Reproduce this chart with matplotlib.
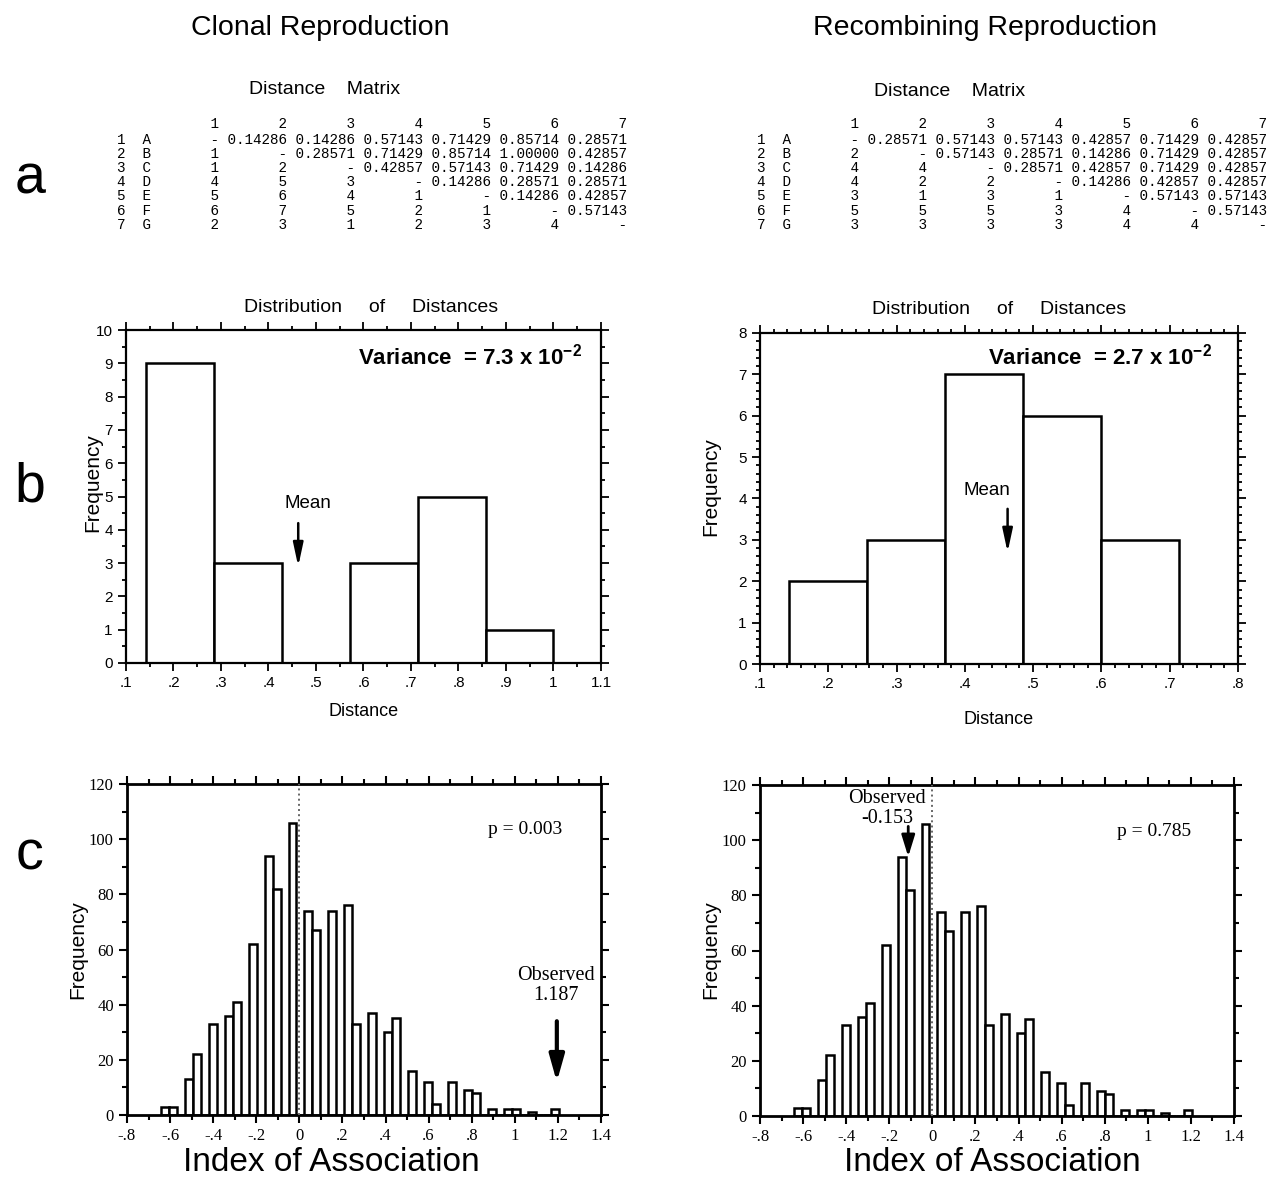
import numpy as np
import matplotlib.pyplot as plt

plt.rcParams['font.family'] = ['Liberation Sans', 'DejaVu Sans']
plt.rcParams['mathtext.fontset'] = 'custom'
plt.rcParams['mathtext.rm'] = 'Liberation Sans'
plt.rcParams['mathtext.bf'] = 'Liberation Sans:bold'

W, H = 1269, 1177

# ===============================
# Data
# ===============================

n_loci = 7
isolates = ["A", "B", "C", "D", "E", "F", "G"]

# number of loci that differ (lower triangle of the matrices)
clonal_diff = [[], [1], [1, 2], [4, 5, 3], [5, 6, 4, 1], [6, 7, 5, 2, 1], [2, 3, 1, 2, 3, 4]]
recomb_diff = [[], [2], [4, 4], [4, 2, 2], [3, 1, 3, 1], [5, 5, 5, 3, 4], [3, 3, 3, 3, 4, 4]]

# distribution of distances
clonal_edges = [0.14286, 0.28571, 0.42857, 0.57143, 0.71429, 0.85714, 1.0]
clonal_counts = [9, 3, 0, 3, 5, 1]
recomb_edges = [0.14286, 0.25714, 0.37143, 0.48571, 0.6, 0.71429]
recomb_counts = [2, 3, 7, 6, 3]

# index of association, randomised data sets (50 bins)
ia_lo, ia_hi, ia_nbins = -0.642, 1.207, 50
ia_counts = [3, 3, 0, 13, 22, 0, 33, 0, 36, 41,
             0, 62, 0, 94, 82, 0, 106, 0, 74, 67,
             0, 74, 0, 76, 33, 0, 37, 0, 30, 35,
             0, 16, 0, 12, 4, 0, 12, 0, 9, 8,
             0, 2, 0, 2, 2, 0, 1, 0, 0, 2]

clonal_observed = 1.187
recomb_observed = -0.153
clonal_p = 0.003
recomb_p = 0.785


def dist_matrix(diff):
    n = len(diff)
    d = [[0.0] * n for _ in range(n)]
    for i in range(n):
        for j in range(i):
            d[i][j] = diff[i][j]
            d[j][i] = diff[i][j] / n_loci
    return d


def matrix_lines(diff):
    d = dist_matrix(diff)
    n = len(d)
    lines = ["    " + "".join("%8d" % (j + 1) for j in range(n))]
    for i in range(n):
        row = "%d  %s" % (i + 1, isolates[i])
        for j in range(n):
            if i == j:
                row += "%8s" % "-"
            elif j < i:
                row += "%8d" % d[i][j]
            else:
                row += "%8.5f" % d[i][j]
        lines.append(row)
    return lines


def mean_distance(diff):
    vals = [v / n_loci for row in diff for v in row]
    return float(np.mean(vals))


def short(v):
    if abs(v) < 1e-9:
        return "0"
    s = "%g" % v
    return s.replace("0.", ".")


fig = plt.figure(figsize=(W / 100, H / 100), dpi=100)


def ftext(x, y, s, **kw):
    kw.setdefault("ha", "center")
    kw.setdefault("va", "center")
    return fig.text(x / W, 1 - y / H, s, **kw)


def box(x0, y0, x1, y1):
    return fig.add_axes([x0 / W, 1 - y1 / H, (x1 - x0) / W, (y1 - y0) / H])


# ===============================
# Titles and panel letters
# ===============================

ftext(320, 28, "Clonal Reproduction", fontsize=20.5)
ftext(985, 28, "Recombining Reproduction", fontsize=20.5)

ftext(30, 180, "a", fontsize=40)
ftext(30, 488, "b", fontsize=40)
ftext(30, 855, "c", fontsize=40)


# ===============================
# a: Distance matrices
# ===============================

ftext(325, 90, "Distance    Matrix", fontsize=14)
ftext(950, 92, "Distance    Matrix", fontsize=14)

for x0, diff in [(117, clonal_diff), (757, recomb_diff)]:
    for k, line in enumerate(matrix_lines(diff)):
        y = 124 if k == 0 else 139.5 + (k - 1) * 14.2
        ftext(x0, y, line, ha="left", fontsize=10.3, family="Liberation Mono")


# ===============================
# b: Distribution of distances
# ===============================

def dist_panel(ax, edges, counts, ymax, yminor, xmax, xminor, diff,
               mean_txt, arrow_top, arrow_tip):
    widths = np.diff(edges)
    ax.bar(edges[:-1], counts, width=widths, align="edge",
           color="white", edgecolor="black", linewidth=1.8)
    ax.set_xlim(0.1, xmax)
    ax.set_ylim(0, ymax)
    xt = np.round(np.arange(0.1, xmax + 0.001, 0.1), 2)
    ax.set_xticks(xt)
    ax.set_xticklabels([short(v) for v in xt], fontsize=11)
    ax.set_xticks(np.arange(0.1, xmax + 0.001, xminor), minor=True)
    ax.set_yticks(range(ymax + 1))
    ax.set_yticklabels([str(v) for v in range(ymax + 1)], fontsize=11)
    ax.set_yticks(np.arange(0, ymax + 0.001, yminor), minor=True)
    ax.tick_params(which="both", direction="out", top=True, right=True, width=1.3)
    ax.tick_params(which="major", length=6)
    ax.tick_params(which="minor", length=3)
    for s in ax.spines.values():
        s.set_linewidth(1.6)
    m = mean_distance(diff)
    ax.text(m + mean_txt[0], mean_txt[1], "Mean", fontsize=13.5, ha="center", va="center")
    ax.annotate("", xy=(m, arrow_tip), xytext=(m, arrow_top),
                arrowprops=dict(arrowstyle="-|>,head_length=1.4,head_width=0.3",
                                lw=1.8, color="black", shrinkA=0, shrinkB=0))


ax1 = box(126, 330, 601, 663)
dist_panel(ax1, clonal_edges, clonal_counts, 10, 0.5, 1.1, 0.05, clonal_diff,
           (0.02, 4.8), 4.2, 2.9)
ax2 = box(760, 333, 1238, 664)
dist_panel(ax2, recomb_edges, recomb_counts, 8, 0.2, 0.8, 0.02, recomb_diff,
           (-0.03, 4.2), 3.75, 2.7)

ftext(371, 308, "Distribution     of     Distances", fontsize=14)
ftext(999, 310, "Distribution     of     Distances", fontsize=14)
ftext(364, 711, "Distance", fontsize=13)
ftext(999, 719, "Distance", fontsize=13)
ftext(93, 483, "Frequency", fontsize=15, rotation=90)
ftext(711, 487, "Frequency", fontsize=15, rotation=90)
ftext(358, 357, r"Variance  = 7.3 x 10$^{\mathbf{-2}}$", fontsize=16,
      fontweight="bold", ha="left")
ftext(988, 357, r"Variance  = 2.7 x 10$^{\mathbf{-2}}$", fontsize=16,
      fontweight="bold", ha="left")


# ===============================
# c: Index of association
# ===============================

def ia_panel(ax, observed, p, arrow_x, arrow_top, arrow_tip, obs_xy, p_xy, big_arrow):
    edges = np.linspace(ia_lo, ia_hi, ia_nbins + 1)
    ax.bar(edges[:-1], ia_counts, width=np.diff(edges), align="edge",
           color="white", edgecolor="black", linewidth=1.8)
    ax.axvline(0, color="#666666", lw=1.4, ls=":", zorder=3)
    ax.set_xlim(-0.8, 1.4)
    ax.set_ylim(0, 120)
    xt = np.round(np.arange(-0.8, 1.401, 0.2), 2)
    ax.set_xticks(xt)
    ax.set_xticklabels([short(v) for v in xt], fontsize=12, family="Liberation Serif")
    ax.set_xticks(np.arange(-0.8, 1.401, 0.1), minor=True)
    ax.set_yticks(range(0, 121, 20))
    ax.set_yticklabels([str(v) for v in range(0, 121, 20)], fontsize=12,
                       family="Liberation Serif")
    ax.set_yticks(range(0, 121, 10), minor=True)
    ax.tick_params(which="both", direction="out", top=True, right=True, width=1.5)
    ax.tick_params(which="major", length=6)
    ax.tick_params(which="minor", length=3.5)
    for s in ax.spines.values():
        s.set_linewidth(2)
    ax.text(p_xy[0], p_xy[1], "p = %.3f" % p, fontsize=14, family="Liberation Serif",
            ha="center", va="center")
    ax.text(obs_xy[0], obs_xy[1], "Observed\n%.3f" % observed, fontsize=14.5,
            family="Liberation Serif", ha="center", va="center", linespacing=1.05)
    if big_arrow:
        style = "-|>,head_length=1.6,head_width=0.45"
        lw = 3
    else:
        style = "-|>,head_length=1.3,head_width=0.4"
        lw = 2
    ax.annotate("", xy=(arrow_x, arrow_tip), xytext=(arrow_x, arrow_top),
                arrowprops=dict(arrowstyle=style, lw=lw, color="black",
                                shrinkA=0, shrinkB=0), zorder=4)


ax3 = box(127, 784, 601, 1115)
ia_panel(ax3, clonal_observed, clonal_p, 1.195, 34, 12, (1.19, 47), (1.05, 103.5), True)
ax4 = box(760, 785, 1234, 1116)
ia_panel(ax4, recomb_observed, recomb_p, -0.112, 105, 94, (-0.21, 111.5), (1.03, 103), False)

ftext(78, 950, "Frequency", fontsize=15, rotation=90)
ftext(711, 950, "Frequency", fontsize=15, rotation=90)
ftext(331, 1171, "Index of Association", fontsize=24, va="baseline")
ftext(992, 1171, "Index of Association", fontsize=24, va="baseline")

fig.savefig("out.png", dpi=100, facecolor="white")
